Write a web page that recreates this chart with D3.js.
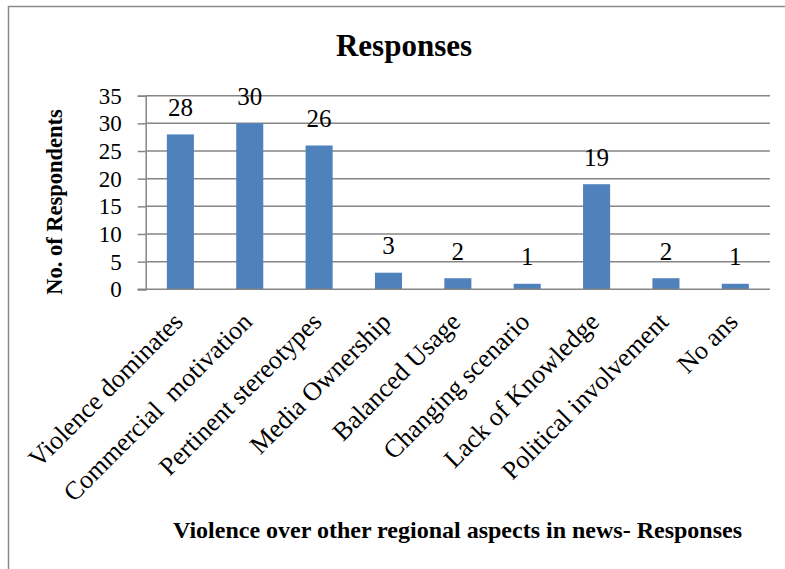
<!DOCTYPE html>
<html>
<head>
<meta charset="utf-8">
<script src="https://cdn.jsdelivr.net/npm/d3@7"></script>
<style>
  html, body { margin: 0; padding: 0; background: #fff; }
  svg { display: block; }
</style>
</head>
<body>
<svg id="chart" width="785" height="569"></svg>
<script>
// Survey responses: why violence outweighs other regional aspects in news
const categories = [
  "Violence dominates",
  "Commercial  motivation",
  "Pertinent stereotypes",
  "Media Ownership",
  "Balanced Usage",
  "Changing scenario",
  "Lack of Knowledge",
  "Political involvement",
  "No ans"
];
const responses = [28, 30, 26, 3, 2, 1, 19, 2, 1];
const yTicks = [0, 5, 10, 15, 20, 25, 30, 35];

const chartTitle = "Responses";
const yTitle = "No. of Respondents";
const xTitle = "Violence over other regional aspects in news- Responses";

const FONT = '"Liberation Serif"';
const svg = d3.select("#chart");

// Outer chart frame
svg.append("rect")
  .attr("x", 8.5).attr("y", 6.5)
  .attr("width", 820).attr("height", 620)
  .attr("fill", "#fff")
  .attr("stroke", "#8a8a8a")
  .attr("stroke-width", 1.5);

const plot = { left: 145.7, right: 770, top: 95.7, bottom: 289.3 };

const x = d3.scaleBand()
  .domain(categories)
  .range([plot.left, plot.right])
  .paddingInner(0.61)
  .paddingOuter(0.305);

const y = d3.scaleLinear()
  .domain([0, 35])
  .range([plot.bottom, plot.top]);

// Horizontal gridlines
svg.append("g")
  .selectAll("line")
  .data(yTicks.filter(t => t > 0))
  .join("line")
  .attr("x1", plot.left).attr("x2", plot.right)
  .attr("y1", d => y(d)).attr("y2", d => y(d))
  .attr("stroke", "#868686")
  .attr("stroke-width", 1.5);

// Y axis with outward ticks
const yAxis = svg.append("g")
  .attr("transform", `translate(${plot.left},0)`)
  .call(d3.axisLeft(y).tickValues(yTicks).tickSize(8).tickPadding(16).tickFormat(d3.format("d")));
yAxis.attr("font-family", null).attr("font-size", null);
yAxis.select(".domain").attr("stroke", "#868686").attr("stroke-width", 1.5);
yAxis.selectAll(".tick line").attr("stroke", "#868686").attr("stroke-width", 1.5);
yAxis.selectAll(".tick text")
  .attr("fill", "#000")
  .style("font-family", FONT)
  .attr("font-size", 23);

// Bars
svg.append("g")
  .selectAll("rect")
  .data(responses)
  .join("rect")
  .attr("x", (d, i) => x(categories[i]))
  .attr("y", d => y(d))
  .attr("width", x.bandwidth())
  .attr("height", d => y(0) - y(d))
  .attr("fill", "#4f81bd");

// X axis baseline
svg.append("line")
  .attr("x1", plot.left - 8).attr("x2", plot.right)
  .attr("y1", plot.bottom).attr("y2", plot.bottom)
  .attr("stroke", "#868686")
  .attr("stroke-width", 1.5);

// Value labels above bars
svg.append("g")
  .selectAll("text")
  .data(responses)
  .join("text")
  .attr("x", (d, i) => x(categories[i]) + x.bandwidth() / 2)
  .attr("y", d => y(d) - 18.5)
  .attr("text-anchor", "middle")
  .style("font-family", FONT)
  .attr("font-size", 25)
  .attr("fill", "#000")
  .text(d => d);

// Rotated category labels
svg.append("g")
  .selectAll("text")
  .data(categories)
  .join("text")
  .attr("transform", d => `translate(${x(d) + x.bandwidth() / 2 + 4},${plot.bottom + 34}) rotate(-45)`)
  .attr("text-anchor", "end")
  .style("font-family", FONT)
  .attr("font-size", 26)
  .attr("xml:space", "preserve")
  .attr("fill", "#000")
  .text(d => d);

// Chart title
svg.append("text")
  .attr("x", 404).attr("y", 56)
  .attr("text-anchor", "middle")
  .style("font-family", FONT)
  .attr("font-size", 31)
  .attr("font-weight", "bold")
  .text(chartTitle);

// Y axis title
svg.append("text")
  .attr("transform", "translate(62,202) rotate(-90)")
  .attr("text-anchor", "middle")
  .style("font-family", FONT)
  .attr("font-size", 22.5)
  .attr("font-weight", "bold")
  .text(yTitle);

// X axis title
svg.append("text")
  .attr("x", 457.5).attr("y", 538)
  .attr("text-anchor", "middle")
  .style("font-family", FONT)
  .attr("font-size", 24)
  .attr("font-weight", "bold")
  .text(xTitle);
</script>
</body>
</html>
